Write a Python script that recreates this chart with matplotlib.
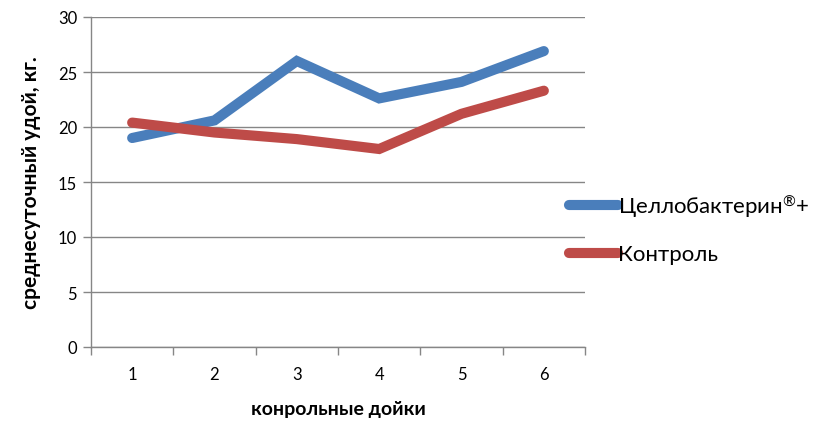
import matplotlib
matplotlib.use("Agg")
import matplotlib.pyplot as plt
from matplotlib.lines import Line2D

categories = ["1", "2", "3", "4", "5", "6"]
cello = [19.0, 20.6, 26.0, 22.6, 24.1, 26.9]
control = [20.4, 19.5, 18.9, 18.0, 21.2, 23.3]
series_names = ["Целлобактерин$^{®}$+", "Контроль"]
y_ticks = [0, 5, 10, 15, 20, 25, 30]

plt.rcParams['font.family'] = ['Lato', 'DejaVu Sans']
plt.rcParams['mathtext.fontset'] = 'custom'
plt.rcParams['mathtext.rm'] = 'Lato'
plt.rcParams['mathtext.it'] = 'Lato'
plt.rcParams['mathtext.default'] = 'regular'

W, H = 821, 427
fig = plt.figure(figsize=(W / 100, H / 100), dpi=100)
ax = fig.add_axes([91 / W, 1 - 348 / H, (585 - 91) / W, (348 - 18) / H])

blue = "#4A7EBB"
red = "#BE4B48"
grid_c = "#868686"

x = list(range(1, len(categories) + 1))
ax.plot(x, cello, color=blue, lw=7.3, solid_capstyle="round", solid_joinstyle="miter", zorder=3)
ax.plot(x, control, color=red, lw=7.3, solid_capstyle="round", solid_joinstyle="miter", zorder=3)

ax.set_xlim(0.5, len(categories) + 0.5)
ax.set_ylim(0, 30)
ax.set_yticks(y_ticks)
ax.set_yticklabels([str(v) for v in y_ticks], fontsize=12)
ax.yaxis.grid(True, color=grid_c, lw=1.0)
ax.set_axisbelow(True)

ax.set_xticks([i + 0.5 for i in range(0, len(categories) + 1)])
ax.set_xticklabels([])
ax.set_xticks(x, minor=True)
ax.set_xticklabels(categories, minor=True, fontsize=12)
ax.tick_params(axis="x", which="minor", length=0, pad=14)
ax.tick_params(axis="x", which="major", length=6, color=grid_c, width=1)
ax.tick_params(axis="y", length=6, color=grid_c, width=1, pad=4)

for s in ["top", "right"]:
    ax.spines[s].set_visible(False)
for s in ["left", "bottom"]:
    ax.spines[s].set_color(grid_c)
    ax.spines[s].set_linewidth(1)

ax.set_xlabel("конрольные дойки", fontsize=14, fontweight="bold", labelpad=13)
ax.set_ylabel("среднесуточный удой, кг.", fontsize=15, fontweight="bold", labelpad=12)

handles = [Line2D([0], [0], color=blue, lw=7.3, solid_capstyle="round"),
           Line2D([0], [0], color=red, lw=7.3, solid_capstyle="round")]
fig.legend(handles, series_names, loc="upper left", bbox_to_anchor=(560 / W, 1 - 184 / H),
           frameon=False, fontsize=16, handlelength=2.2, handletextpad=0.0,
           labelspacing=1.15, borderaxespad=0)

fig.savefig("out.png", dpi=100)
